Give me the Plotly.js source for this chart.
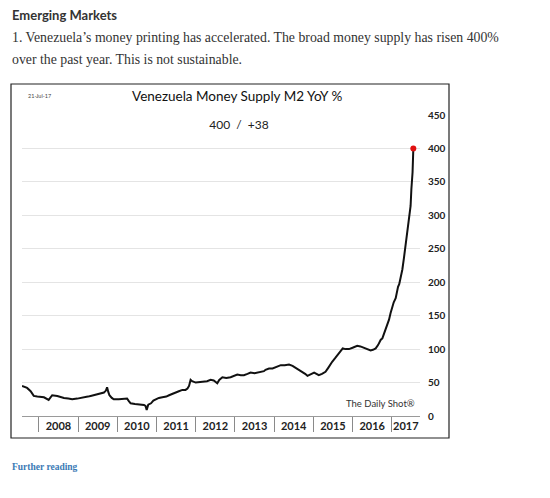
<!DOCTYPE html>
<html>
<head>
<meta charset="utf-8">
<script src="https://cdn.plot.ly/plotly-3.0.1.min.js"></script>
<style>
html,body{margin:0;padding:0;background:#fff;}
#chart{width:550px;height:498px;}
</style>
</head>
<body>
<div id="chart"></div>
<script>
// ---- Data (decimal year, M2 YoY %) ----
const dates = [
 2007.57,2007.64,2007.70,2007.79,2007.87,2007.96,2008.05,2008.13,2008.25,2008.34,
 2008.47,2008.57,2008.64,2008.75,2008.85,2008.98,2009.08,2009.15,2009.25,2009.32,
 2009.40,2009.49,2009.58,2009.66,2009.71,2009.74,2009.77,2009.80,2009.86,2009.91,
 2010.04,2010.15,2010.25,2010.30,2010.34,2010.45,2010.55,2010.62,2010.68,2010.72,
 2010.75,2010.79,2010.86,2010.92,2010.98,2011.06,2011.15,2011.25,2011.32,2011.40,
 2011.49,2011.57,2011.66,2011.74,2011.79,2011.83,2011.87,2011.91,2012.00,2012.10,
 2012.21,2012.29,2012.38,2012.46,2012.55,2012.60,2012.68,2012.78,2012.89,2012.97,
 2013.06,2013.15,2013.23,2013.32,2013.40,2013.50,2013.58,2013.66,2013.74,2013.78,
 2013.87,2013.96,2014.05,2014.17,2014.27,2014.38,2014.47,2014.55,2014.60,2014.66,
 2014.72,2014.79,2014.85,2014.93,2015.02,2015.08,2015.14,2015.22,2015.31,2015.38,
 2015.44,2015.48,2015.55,2015.61,2015.68,2015.75,2015.82,2015.91,2016.00,2016.06,
 2016.12,2016.20,2016.29,2016.38,2016.46,2016.52,2016.59,2016.65,2016.69,2016.72,
 2016.76,2016.80,2016.84,2016.88,2016.93,2016.97,2017.01,2017.05,2017.10,2017.13,
 2017.16,2017.19,2017.22,2017.25,2017.27,2017.31,2017.35,2017.40,2017.44,2017.46,
 2017.48,2017.50,2017.53,2017.55
];
const m2yoy = [
 45,44,42,37,30,29,29,28,24,31,
 30,28,27,26,25,26,27,27,29,30,
 31,33,34,35,38,43,36,31,27,25,
 25,25,26,22,19,18,17.5,17,16.5,15,
 9,17,19,23,25,27,28,29,31,33,
 36,37,39,39,41,45,54,52,50,51,
 51,52,54,53,49,54,58,57,58,60,
 62,61,61,63,65,64,65,65,67,69,
 71,71,73,76,76,77,75,72,71,68,
 66,63,60,62,65,63,61,63,66,72,
 78,81,86,91,96,101,100,100,102,104,
 105,104,102,99,98,99,101,106,111,114,
 116,122,128,135,144,154,164,170,176,185,
 193,197,204,212,219,236,254,273,294,303,
 314,339,364,400
];
const yearLabels = ['2008','2009','2010','2011','2012','2013','2014','2015','2016','2017'];
const yearStarts = [2008,2009,2010,2011,2012,2013,2014,2015,2016,2017];
const yTicks = [0,50,100,150,200,250,300,350,400,450];

const headText = 'Emerging Markets';
const paraLine1 = '1. Venezuela\u2019s money printing has accelerated. The broad money supply has risen 400%';
const paraLine2 = 'over the past year. This is not sustainable.';
const chartTitle = 'Venezuela Money Supply M2 YoY %';
const chartSub = '400  /  +38';
const chartDate = '21-Jul-17';
const source = 'The Daily Shot\u00AE';
const furtherText = 'Further reading';

// ---- Layout helpers (page pixel -> paper coords) ----
const W = 550, H = 498;
const M = {l:22, r:130, t:115, b:82};
const PW = W - M.l - M.r, PH = H - M.t - M.b;
const px = x => (x - M.l) / PW;
const py = y => (H - M.b - y) / PH;

const xRange = [2007.57, 2017.72];
const labelPos = yearStarts.map(s => Math.min(s + 0.5, (s + xRange[1]) / 2));

const chartFont = 'Lato, "Open Sans", sans-serif';

const traces = [
  {
    x: dates, y: m2yoy, type: 'scatter', mode: 'lines',
    line: {color: '#111', width: 2}, hoverinfo: 'skip', showlegend: false
  },
  {
    x: [dates[dates.length-1]], y: [m2yoy[m2yoy.length-1]],
    type: 'scatter', mode: 'markers',
    marker: {color: '#e01010', size: 6}, hoverinfo: 'skip', showlegend: false
  }
];

const layout = {
  width: W, height: H,
  margin: M,
  paper_bgcolor: '#fff', plot_bgcolor: '#fff',
  showlegend: false,
  xaxis: {
    range: xRange, showgrid: false, zeroline: false,
    showline: true, linecolor: '#9a9a9a', linewidth: 1,
    tickmode: 'array', tickvals: labelPos, ticktext: yearLabels,
    ticks: '', tickfont: {family: chartFont, size: 11, color: '#222', weight: 'bold'},
    minor: {tickmode: 'array', tickvals: yearStarts, ticks: 'outside', ticklen: 15,
            tickwidth: 1, tickcolor: '#8a8a8a', showgrid: false},
    fixedrange: true
  },
  yaxis: {
    side: 'right', range: [0, 450], tickmode: 'array', tickvals: yTicks,
    showgrid: true, gridcolor: '#e4e4e4', gridwidth: 1, zeroline: false,
    showline: false, ticks: '', ticklabelstandoff: 7,
    tickfont: {family: chartFont, size: 10, color: '#222', weight: 'bold'},
    fixedrange: true
  },
  shapes: [
    {type: 'rect', xref: 'paper', yref: 'paper',
     x0: px(11), x1: px(449), y0: py(438), y1: py(84),
     line: {color: '#222', width: 1.2}, fillcolor: 'rgba(0,0,0,0)', layer: 'below'}
  ],
  annotations: [
    {text: headText, xref: 'paper', yref: 'paper', x: px(10), y: py(14.5),
     xanchor: 'left', yanchor: 'middle', showarrow: false,
     font: {family: 'Lato, sans-serif', size: 13, color: '#333', weight: 'bold'}},
    {text: paraLine1, xref: 'paper', yref: 'paper', x: px(10), y: py(37.5),
     xanchor: 'left', yanchor: 'middle', showarrow: false,
     font: {family: '"Liberation Serif", serif', size: 13.8, color: '#333'}},
    {text: paraLine2, xref: 'paper', yref: 'paper', x: px(10), y: py(59.5),
     xanchor: 'left', yanchor: 'middle', showarrow: false,
     font: {family: '"Liberation Serif", serif', size: 13.8, color: '#333'}},
    {text: chartDate, xref: 'paper', yref: 'paper', x: px(26), y: py(96),
     xanchor: 'left', yanchor: 'middle', showarrow: false,
     font: {family: chartFont, size: 5.5, color: '#444'}},
    {text: chartTitle, xref: 'paper', yref: 'paper', x: px(237), y: py(95.5),
     xanchor: 'center', yanchor: 'middle', showarrow: false,
     font: {family: chartFont, size: 13.5, color: '#111'}},
    {text: chartSub, xref: 'paper', yref: 'paper', x: px(239.5), y: py(123.5),
     xanchor: 'center', yanchor: 'middle', showarrow: false,
     width: 120, height: 20, bgcolor: '#fff',
     font: {family: chartFont, size: 12, color: '#222'}},
    {text: source, xref: 'paper', yref: 'paper', x: px(417), y: py(403),
     xanchor: 'right', yanchor: 'middle', showarrow: false,
     font: {family: chartFont, size: 9.5, color: '#333'}},
    {text: furtherText, xref: 'paper', yref: 'paper', x: px(10), y: py(467),
     xanchor: 'left', yanchor: 'middle', showarrow: false,
     font: {family: '"Liberation Serif", serif', size: 9.5, color: '#3b7ab5', weight: 'bold'}}
  ]
};

Plotly.newPlot('chart', traces, layout, {staticPlot: true, displayModeBar: false});
</script>
</body>
</html>
